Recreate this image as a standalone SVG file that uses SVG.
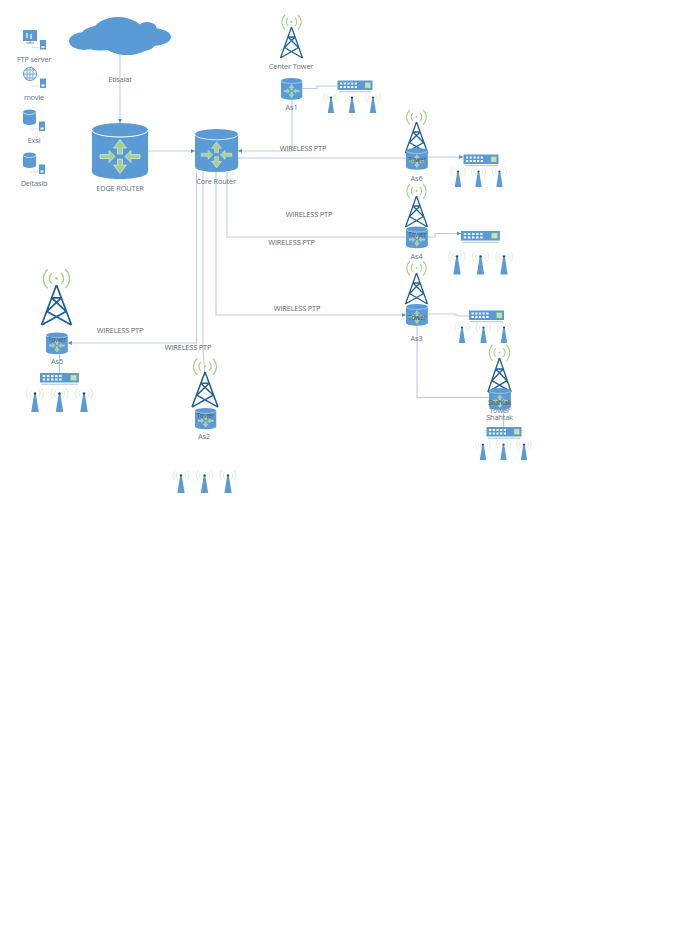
<svg xmlns="http://www.w3.org/2000/svg" width="680" height="933" viewBox="0 0 680 933">
<style>
text{font-family:"Open Sans","Noto Sans","Liberation Sans",sans-serif;font-size:7.4px;letter-spacing:-.17px;text-anchor:middle;fill:#63748a}
.w{fill:#666}
.t{fill:#4a5560;font-size:6.4px}
.c{fill:none;stroke:#b7cfe9;stroke-width:1.1}
.a{marker-end:url(#arr)}
.b{fill:#5b9bd5}
.tw{fill:none;stroke:#1f5f99;stroke-width:1.3}
.wv{fill:none;stroke:#a9d18e;stroke-width:1.1}
.pw{fill:none;stroke:#d9eace;stroke-width:.8}
</style>
<defs>
<marker id="arr" markerWidth="5" markerHeight="5" refX="4" refY="2.5" orient="auto" markerUnits="userSpaceOnUse"><path d="M0,.5L4,2.5L0,4.5z" fill="#4f8fcf"/></marker>
<path id="ar" d="M28,16.500L34.500,25H30.500V31H25.500V25H21.500Z" fill="#a9d18e" stroke="#fff" stroke-width=".5"/>
<path id="al" d="M8,31.500H17V27.500L23,33.500L17,39.500V35.500H8Z" fill="#a9d18e" stroke="#fff" stroke-width=".5"/>
<g id="router">
<path class="b" d="M0,7A28,7 0 0 1 56,7V49A28,7 0 0 1 0,49Z"/>
<path d="M0,7A28,7 0 0 0 56,7" fill="none" stroke="#fff" stroke-width="1"/>
<use href="#ar"/>
<use href="#ar" transform="rotate(180 28 33.500)"/>
<use href="#al"/>
<use href="#al" transform="rotate(180 28 33.500)"/>
</g>
<g id="tower">
<path class="tw" d="M0,0L-11,31M0,0L11,31M-3.500,10H3.500M-3.500,10L7,20.500M3.500,10L-7,20.500M-7,20.500L11,31M7,20.500L-11,31"/>
<circle cy="-5" r="1" fill="#a9d18e"/>
<path class="wv" d="M-3.500,-9A5.500,5.500 0 0 0 -3.500,-1M3.500,-9A5.500,5.500 0 0 1 3.500,-1M-6.500,-12A10,10 0 0 0 -6.500,2.500M6.500,-12A10,10 0 0 1 6.500,2.500"/>
</g>
<g id="ant">
<path class="b" d="M-.8,1H.8L3.200,16H-3.200Z"/>
<circle r="1.100" cy=".5" fill="#1f4f88"/>
<path class="pw" d="M-3,-2.500A4,4 0 0 0 -3,3.500M3,-2.500A4,4 0 0 1 3,3.500M-5.500,-4A7.500,7.500 0 0 0 -5.500,5M5.500,-4A7.500,7.500 0 0 1 5.500,5"/>
</g>
<g id="sw">
<rect width="35" height="9.500" class="b"/>
<rect x="1" y="10.700" width="33" height="1" fill="#a9c6e5"/>
<rect x="27.500" y="2" width="5.500" height="5.500" fill="#c8e0b4" stroke="#8fbb75" stroke-width=".4"/>
<path d="M2.500,2.900H21M2.500,6.500H21" stroke="#fff" stroke-width="2" stroke-dasharray="2.200 1.500" fill="none"/>
</g>
<g id="srv">
<rect width="6" height="9.500" class="b"/>
<rect x="1.500" y="6" width="3" height="2" fill="#fff"/>
<path d="M-8,7.500H-1" stroke="#c5d9ee" stroke-width=".8"/>
</g>
<g id="cyl">
<path class="b" d="M0,2.500A6.500,2.500 0 0 1 13,2.500V13A6.500,2.500 0 0 1 0,13Z"/>
<path d="M0,2.500A6.500,2.500 0 0 0 13,2.500" fill="none" stroke="#fff" stroke-width=".6"/>
</g>
</defs>

<g id="connectors">
<path class="c a" d="M120,55V123"/>
<path class="c a" d="M148,151H195"/>
<path class="c a" d="M292,100V151H238"/>
<path class="c" d="M302,88.500H317V86H337"/>
<path class="c" d="M238,158H406"/>
<path class="c a" d="M428,157H463"/>
<path class="c" d="M227,172V237H406"/>
<path class="c a" d="M428,237H435V233.500H461"/>
<path class="c a" d="M216,172V315H406"/>
<path class="c" d="M428,314H455L458,316H469"/>
<path class="c a" d="M196.500,172V343H68"/>
<path class="c" d="M203,172V350L205,375"/>
<path class="c" d="M417,325V397.500H489"/>
<path class="c" d="M503.500,408V427"/>
<path class="c" d="M59.500,353V373"/>
</g>

<g id="cloud">
<g class="b"><ellipse cx="84" cy="41" rx="15" ry="9"/><ellipse cx="104" cy="37" rx="24" ry="12"/><ellipse cx="118" cy="32" rx="25" ry="15"/><ellipse cx="147" cy="29" rx="10" ry="7"/><ellipse cx="153" cy="37" rx="18" ry="9"/><ellipse cx="127" cy="44" rx="23" ry="11"/><ellipse cx="100" cy="46" rx="14" ry="4.500"/><ellipse cx="142" cy="44" rx="13" ry="7"/></g>
<text x="120" y="82">Etisalat</text>
</g>

<g id="ftp">
<rect x="23" y="30" width="14" height="11" class="b"/><path d="M30,41V43M26,43H34" stroke="#5b9bd5"/><path d="M27,33V38M31,34V39" stroke="#fff" stroke-width="1.200"/>
<use href="#srv" x="40" y="40"/><text x="34" y="62">FTP server</text>
</g>
<g id="movie">
<circle cx="30" cy="74" r="6.500" fill="none" stroke="#5b9bd5" stroke-width="1"/><path d="M23.500,74H36.500M30,67.500V80.500M25,70H35M25,78H35M27,68V80M33,68V80" stroke="#5b9bd5" stroke-width=".8"/>
<use href="#srv" x="40" y="78.500"/><text x="34" y="100">movie</text>
</g>
<g id="exsi">
<use href="#cyl" x="23" y="109.500"/><use href="#srv" x="39" y="121.500"/><text x="34" y="143">Exsi</text>
</g>
<g id="deltasib">
<use href="#cyl" x="23" y="152.500"/><use href="#srv" x="39" y="164.500"/><text x="34" y="186">Deltasib</text>
</g>

<g id="edge-router"><use href="#router" transform="translate(92 123)"/><text x="120" y="191">EDGE ROUTER</text></g>
<g id="core-router"><use href="#router" transform="translate(195 129) scale(.77)"/><text x="216" y="184">Core Router</text></g>

<g id="center-tower"><use href="#tower" transform="translate(291.500 27)"/><text x="291" y="69">Center Tower</text></g>
<g id="as1"><use href="#router" transform="translate(281 78) scale(.38 .39)"/><text x="291.500" y="110">As1</text>
<use href="#sw" x="337.500" y="80.500"/><use href="#ant" x="331" y="97"/><use href="#ant" x="352" y="97"/><use href="#ant" x="373" y="97"/></g>

<g id="as6"><use href="#tower" transform="translate(416.500 122) scale(1.020 1)"/><use href="#router" transform="translate(406 148) scale(.39)"/><text class="t" x="417" y="162">Tower</text><text x="416.500" y="181">As6</text>
<use href="#sw" x="463.500" y="154.500"/><use href="#ant" x="458" y="171"/><use href="#ant" x="478.500" y="171"/><use href="#ant" x="499.500" y="171"/></g>

<g id="as4"><use href="#tower" transform="translate(416.500 196)"/><use href="#router" transform="translate(406 226.500) scale(.39)"/><text class="t" x="417" y="237">Tower</text><text x="416.500" y="259">As4</text>
<use href="#sw" transform="translate(461 231) scale(1.110 1)"/><use href="#ant" transform="translate(457 256) scale(1.150)"/><use href="#ant" transform="translate(480.500 256) scale(1.150)"/><use href="#ant" transform="translate(504 256) scale(1.150)"/></g>

<g id="as3"><use href="#tower" transform="translate(416.500 273)"/><use href="#router" transform="translate(406 304) scale(.39)"/><text class="t" x="417" y="320">Tower</text><text x="416.500" y="341">As3</text>
<use href="#sw" x="469" y="310.500"/><use href="#ant" x="462" y="327"/><use href="#ant" x="483.500" y="327"/><use href="#ant" x="504" y="327"/></g>

<g id="shahtak"><use href="#tower" transform="translate(499.500 358) scale(1.060 1.100)"/><use href="#router" transform="translate(489 388) scale(.39)"/><text class="t" x="499.500" y="405">Shahtak</text><text x="499.500" y="413">Tower</text><text x="499.500" y="419.500">Shahtak</text>
<use href="#sw" x="486.500" y="427"/><use href="#ant" x="483" y="444"/><use href="#ant" x="503.500" y="444"/><use href="#ant" x="524" y="444"/></g>

<g id="as5"><use href="#tower" transform="translate(56.500 285) scale(1.360 1.290)"/><use href="#router" transform="translate(46 332.500) scale(.39)"/><text class="t" x="57" y="342">Tower</text><text x="57" y="364">As5</text>
<use href="#sw" transform="translate(40 373) scale(1.110 1)"/><use href="#ant" transform="translate(35 393) scale(1.180)"/><use href="#ant" transform="translate(59.500 393) scale(1.180)"/><use href="#ant" transform="translate(84 393) scale(1.180)"/></g>

<g id="as2"><use href="#tower" transform="translate(205 372) scale(1.180 1.130)"/><use href="#router" transform="translate(195 408) scale(.38)"/><text class="t" x="205.500" y="418">Tower</text><text x="204" y="439">As2</text>
<use href="#ant" transform="translate(181 475) scale(1.130)"/><use href="#ant" transform="translate(204.500 475) scale(1.130)"/><use href="#ant" transform="translate(228 475) scale(1.130)"/></g>

<g id="labels">
<text class="w" x="303" y="150.500">WIRELESS PTP</text>
<text class="w" x="309" y="216.500">WIRELESS PTP</text>
<text class="w" x="291.500" y="244.500">WIRELESS PTP</text>
<text class="w" x="297" y="310.500">WIRELESS PTP</text>
<text class="w" x="120" y="332.500">WIRELESS PTP</text>
<text class="w" x="188" y="350">WIRELESS PTP</text>
</g>
</svg>
